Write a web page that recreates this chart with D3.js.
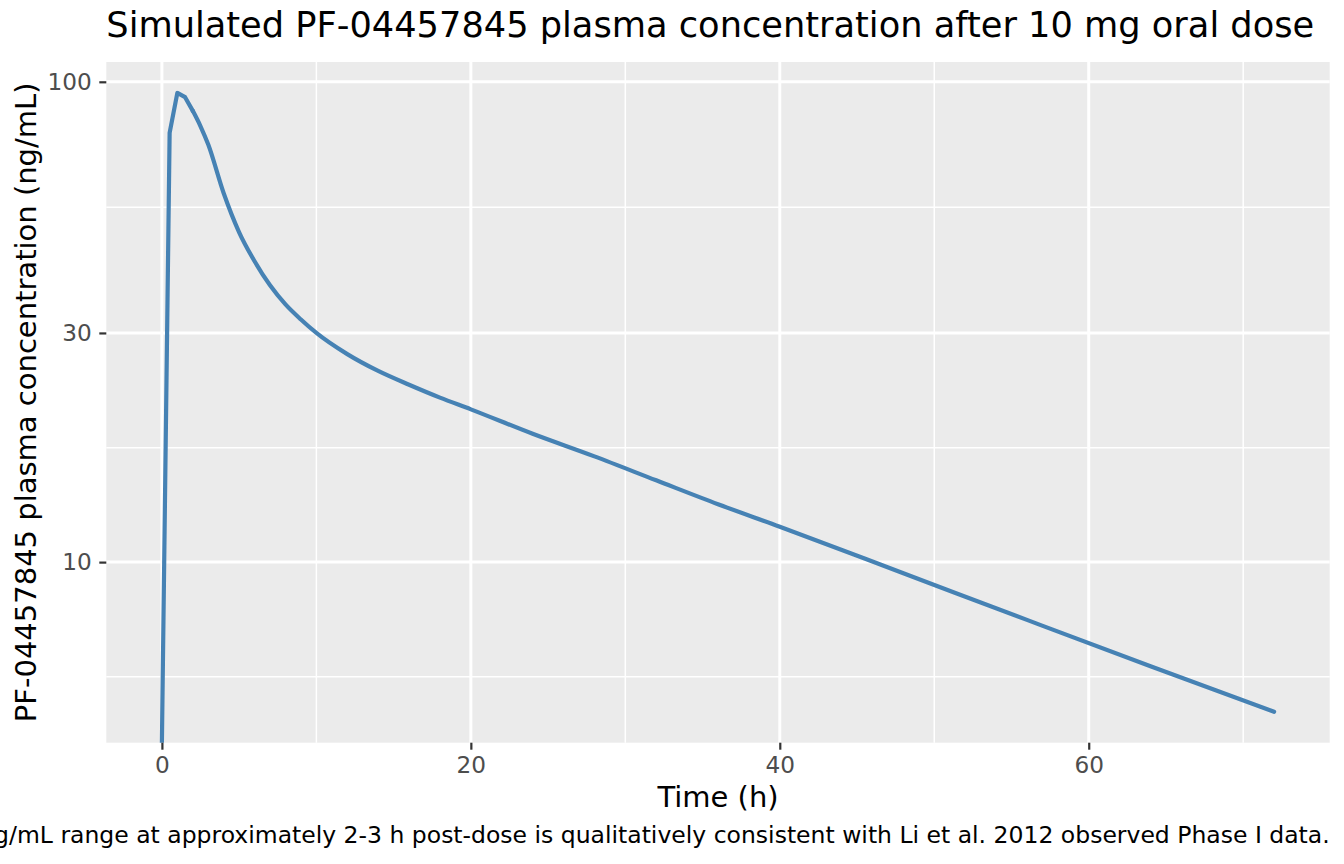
<!DOCTYPE html>
<html>
<head>
<meta charset="utf-8">
<script src="https://cdn.jsdelivr.net/npm/d3@7"></script>
<style>
  body { margin: 0; background: #fff; }
  svg { display: block; font-family: "DejaVu Sans", sans-serif; }
</style>
</head>
<body>
<div id="chart"></div>
<script>
// Simulated concentration-time profile
const times = [0, 0.5, 1, 1.5, 2, 2.5, 3, 4, 5, 6, 7, 8, 9, 10, 12, 14, 16, 18, 20, 24, 28, 32, 36, 40, 48, 56, 64, 72];
const conc = [0, 78.3, 94.8, 92.9, 87.0, 80.8, 74.0, 58.6, 48.6, 42.3, 37.7, 34.4, 32.0, 30.0, 27.1, 25.0, 23.4, 22.0, 20.8, 18.5, 16.6, 14.8, 13.2, 11.85, 9.48, 7.58, 6.07, 4.88];

const xTicks = [0, 20, 40, 60];
const xMinor = [10, 30, 50, 70];
const yTicks = [10, 30, 100];
const yMinor = [5.77, 17.3, 54.8];

const titleText = "Simulated PF-04457845 plasma concentration after 10 mg oral dose";
const xTitle = "Time (h)";
const yTitle = "PF-04457845 plasma concentration (ng/mL)";
const captionText = "Predicted Cmax in the ~90-100 ng/mL range at approximately 2-3 h post-dose is qualitatively consistent with Li et al. 2012 observed Phase I data.";

function createChart() {
    const W = 1344, H = 864;
    const margin = { top: 62, right: 14.3, bottom: 121.3, left: 106.3 };
    const width = W - margin.left - margin.right;
    const height = H - margin.top - margin.bottom;

    const data = times.map((t, i) => ({ t: t, c: conc[i] }));

    const svg = d3.select("#chart")
        .append("svg")
        .attr("width", W)
        .attr("height", H);

    const g = svg.append("g")
        .attr("transform", `translate(${margin.left},${margin.top})`);

    // ggplot-style 5% expansion
    const xExt = d3.extent(times);
    const xPad = (xExt[1] - xExt[0]) * 0.05;
    const xScale = d3.scaleLinear()
        .domain([xExt[0] - xPad, xExt[1] + xPad])
        .range([0, width]);

    const pos = conc.filter(d => d > 0);
    const lo = Math.log10(d3.min(pos)), hi = Math.log10(d3.max(pos));
    const yPad = (hi - lo) * 0.05;
    const yScale = d3.scaleLog()
        .domain([Math.pow(10, lo - yPad), Math.pow(10, hi + yPad)])
        .range([height, 0])
        .clamp(true); // zero at t=0 sits on the panel floor

    // Panel background
    g.append("rect")
        .attr("width", width)
        .attr("height", height)
        .attr("fill", "#EBEBEB");

    // Minor grid
    g.selectAll(".ymin").data(yMinor).enter().append("line")
        .attr("x1", 0).attr("x2", width)
        .attr("y1", d => yScale(d)).attr("y2", d => yScale(d))
        .attr("stroke", "#fff").attr("stroke-width", 1.5);
    g.selectAll(".xmin").data(xMinor).enter().append("line")
        .attr("y1", 0).attr("y2", height)
        .attr("x1", d => xScale(d)).attr("x2", d => xScale(d))
        .attr("stroke", "#fff").attr("stroke-width", 1.5);

    // Major grid
    g.selectAll(".ymaj").data(yTicks).enter().append("line")
        .attr("x1", 0).attr("x2", width)
        .attr("y1", d => yScale(d)).attr("y2", d => yScale(d))
        .attr("stroke", "#fff").attr("stroke-width", 3);
    g.selectAll(".xmaj").data(xTicks).enter().append("line")
        .attr("y1", 0).attr("y2", height)
        .attr("x1", d => xScale(d)).attr("x2", d => xScale(d))
        .attr("stroke", "#fff").attr("stroke-width", 3);

    // Concentration line: straight absorption part, smooth decline after 2 h
    g.append("clipPath").attr("id", "panel-clip")
        .append("rect").attr("width", width).attr("height", height);

    const split = times.indexOf(2);
    const lineStraight = d3.line()
        .x(d => xScale(d.t))
        .y(d => yScale(d.c));
    const lineSmooth = d3.line()
        .curve(d3.curveMonotoneX)
        .x(d => xScale(d.t))
        .y(d => yScale(d.c));

    [[data.slice(0, split + 1), lineStraight], [data.slice(split), lineSmooth]].forEach(([part, gen]) => {
        g.append("path")
            .datum(part)
            .attr("clip-path", "url(#panel-clip)")
            .attr("fill", "none")
            .attr("stroke", "#4682B4")
            .attr("stroke-width", 4.2)
            .attr("stroke-linejoin", "round")
            .attr("stroke-linecap", "round")
            .attr("d", gen);
    });

    // Axes
    const xAxis = g.append("g")
        .attr("transform", `translate(0,${height})`)
        .call(d3.axisBottom(xScale).tickValues(xTicks).tickSize(7).tickPadding(7).tickFormat(d3.format("d")));

    const yAxis = g.append("g")
        .call(d3.axisLeft(yScale).tickValues(yTicks).tickSize(7).tickPadding(7.5).tickFormat(d3.format("d")));

    [xAxis, yAxis].forEach(ax => {
        ax.select(".domain").remove();
        ax.selectAll(".tick line").attr("stroke", "#333333").attr("stroke-width", 2.2);
        ax.selectAll(".tick text")
            .attr("fill", "#4D4D4D")
            .style("font-family", "DejaVu Sans")
            .style("font-size", "23.2px");
    });

    // Titles
    svg.append("text")
        .attr("x", margin.left)
        .attr("y", 37)
        .style("font-size", "35.2px")
        .attr("fill", "#000")
        .text(titleText);

    svg.append("text")
        .attr("x", margin.left + width / 2)
        .attr("y", 806.5)
        .style("text-anchor", "middle")
        .style("font-size", "29px")
        .attr("fill", "#000")
        .text(xTitle);

    svg.append("text")
        .attr("transform", `translate(35.5,${margin.top + height / 2}) rotate(-90)`)
        .style("text-anchor", "middle")
        .style("font-size", "29px")
        .attr("fill", "#000")
        .text(yTitle);

    // Caption, right aligned to the panel (runs off the left edge as in the original)
    svg.append("text")
        .attr("x", margin.left + width)
        .attr("y", 842.7)
        .style("text-anchor", "end")
        .style("font-size", "23.5px")
        .attr("fill", "#000")
        .text(captionText);
}

createChart();
</script>
</body>
</html>
